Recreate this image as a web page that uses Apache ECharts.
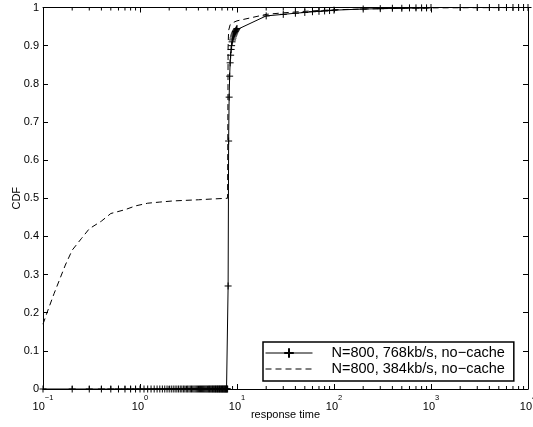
<!DOCTYPE html>
<html>
<head>
<meta charset="utf-8">
<script src="https://cdn.jsdelivr.net/npm/echarts@6/dist/echarts.min.js"></script>
<style>
html,body{margin:0;padding:0;background:#fff;}
#c{width:533px;height:427px;}
</style>
</head>
<body>
<div id="c"></div>
<script>
// ---- data ----
const nameSolid = 'N=800, 768kb/s, no\u2212cache';
const nameDashed = 'N=800, 384kb/s, no\u2212cache';

const xSolid = [
  0.1,0.2,0.3,0.4,0.5,0.6,0.7,0.8,0.9,1.0,
  1.1,1.2,1.3,1.4,1.5,1.6,1.7,1.8,1.9,2.0,
  2.1,2.2,2.3,2.4,2.5,2.6,2.7,2.8,2.9,3.0,
  3.1,3.2,3.3,3.4,3.5,3.6,3.7,3.8,3.9,4.0,
  4.1,4.2,4.3,4.4,4.5,4.6,4.7,4.8,4.9,5.0,
  5.1,5.2,5.3,5.4,5.5,5.6,5.7,5.8,5.9,6.0,
  6.1,6.2,6.3,6.4,6.5,6.6,6.7,6.8,6.9,7.0,
  7.1,7.2,7.3,7.4,7.5,7.6,7.7,7.8,7.9,8.0,
  8.1,8.2,8.3,8.4,8.5,8.6,8.7,8.8,8.9,9.0,
  9.1,9.2,9.3,9.4,9.5,9.6,9.7,9.8,9.9,10,
  20,30,40,50,60,70,80,90,100,
  200,300,400,500,600,700,800,900,1000,
  2000,3000,4000,5000,6000,7000,8000,9000,10000
];
const ySolid = [
  0,0,0,0,0,0,0,0,0,0,
  0,0,0,0,0,0,0,0,0,0,
  0,0,0,0,0,0,0,0,0,0,
  0,0,0,0,0,0,0,0,0,0,
  0,0,0,0,0,0,0,0,0,0,
  0,0,0,0,0,0,0,0,0,0,
  0,0,0,0,0,0,0,0,0,0,
  0,0,0,0,0,0,0,0,0,0,
  0.27,0.65,0.765,0.82,0.855,0.875,0.89,0.90,0.91,0.915,
  0.92,0.925,0.928,0.931,0.934,0.937,0.939,0.941,0.943,0.945,
  0.978,0.982,0.985,0.987,0.989,0.990,0.991,0.992,0.993,
  0.996,0.997,0.998,0.998,0.999,0.999,0.999,0.999,1,
  1,1,1,1,1,1,1,1,1
];
const xDashed = [0.1,0.11,0.13,0.15,0.17,0.2,0.25,0.3,0.4,0.5,0.7,0.9,1.2,1.6,2.2,4,5.5,8,8.1,8.2,8.5,9,10,20,30,50,100,200,500,1000,10000];
const yDashed = [0.17,0.2,0.25,0.29,0.325,0.364,0.395,0.42,0.44,0.46,0.47,0.48,0.487,0.49,0.493,0.496,0.498,0.5,0.9,0.94,0.955,0.96,0.965,0.982,0.986,0.99,0.994,0.996,0.998,0.999,1];

const xMin = 0.1, xMax = 10000;
const yTicks = [0,0.1,0.2,0.3,0.4,0.5,0.6,0.7,0.8,0.9,1];
const xLabel = 'response time';
const yLabel = 'CDF';

// minor tick positions for the log axis (2..9 within each decade)
const minorTicks = [];
for (let d = -1; d < 4; d++) {
  for (let k = 2; k <= 9; k++) minorTicks.push([k * Math.pow(10, d), 0]);
}

const FONT = '"Liberation Sans", Arial, Helvetica, sans-serif';
const chart = echarts.init(document.getElementById('c'), null, {renderer: 'canvas'});

function pairs(xs, ys) { return xs.map((x, i) => [x, ys[i]]); }

const axisLine = {show: true, onZero: false, lineStyle: {color: '#000', width: 1}};
const plusPath = 'path://M0,5L10,5M5,0L5,10';
const blankPath = 'path://M0,0L10,0L10,10L0,10Z';

chart.setOption({
  animation: false,
  backgroundColor: '#fff',
  grid: {left: 43, right: 5, top: 7.5, bottom: 38, containLabel: false, outerBoundsMode: 'none'},
  textStyle: {fontFamily: FONT},
  legend: {
    orient: 'vertical',
    left: 263, top: 342,
    padding: [3, 9, 4, 2],
    itemGap: 0,
    itemWidth: 47,
    itemHeight: 12,
    borderColor: '#000',
    borderWidth: 1.5,
    backgroundColor: '#fff',
    lineStyle: {width: 1},
    data: [nameSolid, nameDashed],
    textStyle: {fontSize: 14.5, lineHeight: 16, color: '#000', fontFamily: FONT, padding: [0, 0, 0, 14]}
  },
  xAxis: [
    {
      type: 'log', logBase: 10, min: xMin, max: xMax,
      position: 'bottom',
      name: xLabel, nameLocation: 'middle', nameGap: 20, nameMoveOverlap: false,
      nameTextStyle: {fontSize: 11, color: '#000', fontFamily: FONT},
      axisLine: axisLine,
      axisTick: {show: true, inside: true, length: 5, lineStyle: {color: '#000'}},
      splitLine: {show: false},
      axisLabel: {
        margin: 5,
        color: '#000',
        formatter: function (v) {
          const e = Math.round(Math.log10(v));
          return '{b|10}{s|' + (e < 0 ? '\u2212' + (-e) : e) + '}';
        },
        rich: {
          b: {fontSize: 11, fontFamily: FONT, color: '#000', lineHeight: 18, verticalAlign: 'bottom'},
          s: {fontSize: 7.5, fontFamily: FONT, color: '#000', lineHeight: 18, verticalAlign: 'top'}
        }
      }
    },
    {
      type: 'log', logBase: 10, min: xMin, max: xMax,
      position: 'top',
      axisLine: axisLine,
      axisTick: {show: true, inside: true, length: 5, lineStyle: {color: '#000'}},
      axisLabel: {show: false},
      splitLine: {show: false}
    }
  ],
  yAxis: [
    {
      type: 'value', min: yTicks[0], max: yTicks[yTicks.length - 1], interval: 0.1,
      position: 'left',
      name: yLabel, nameLocation: 'middle', nameGap: 21, nameMoveOverlap: false,
      nameTextStyle: {fontSize: 11, color: '#000', fontFamily: FONT},
      axisLine: axisLine,
      axisTick: {show: true, inside: true, length: 5, lineStyle: {color: '#000'}},
      axisLabel: {fontSize: 11, color: '#000', margin: 4, fontFamily: FONT,
        formatter: v => String(Math.round(v * 10) / 10)},
      splitLine: {show: false}
    },
    {
      type: 'value', min: yTicks[0], max: yTicks[yTicks.length - 1], interval: 0.1,
      position: 'right',
      axisLine: axisLine,
      axisTick: {show: true, inside: true, length: 5, lineStyle: {color: '#000'}},
      axisLabel: {show: false},
      splitLine: {show: false}
    }
  ],
  series: [
    {
      type: 'custom',
      name: 'minor',
      xAxisIndex: 0, yAxisIndex: 0,
      clip: false,
      silent: true,
      data: minorTicks,
      renderItem: function (params, api) {
        const v = api.value(0);
        const b = api.coord([v, 0]);
        const t = api.coord([v, 1]);
        return {
          type: 'group',
          children: [
            {type: 'line', shape: {x1: b[0], y1: b[1], x2: b[0], y2: b[1] - 3}, style: {stroke: '#000', lineWidth: 1}},
            {type: 'line', shape: {x1: t[0], y1: t[1], x2: t[0], y2: t[1] + 3}, style: {stroke: '#000', lineWidth: 1}}
          ]
        };
      }
    },
    {
      type: 'line',
      name: nameDashed,
      data: pairs(xDashed, yDashed),
      symbol: blankPath,
      showSymbol: false,
      clip: false,
      lineStyle: {color: '#000', width: 1, type: [6, 4]},
      itemStyle: {color: 'rgba(0,0,0,0)', borderColor: 'rgba(0,0,0,0)', borderWidth: 0},
      z: 3
    },
    {
      type: 'line',
      name: nameSolid,
      data: pairs(xSolid, ySolid),
      symbol: plusPath,
      symbolSize: 7,
      showAllSymbol: true,
      clip: false,
      lineStyle: {color: '#000', width: 1},
      itemStyle: {color: 'none', borderColor: '#000', borderWidth: 1},
      z: 4
    }
  ]
});
</script>
</body>
</html>
